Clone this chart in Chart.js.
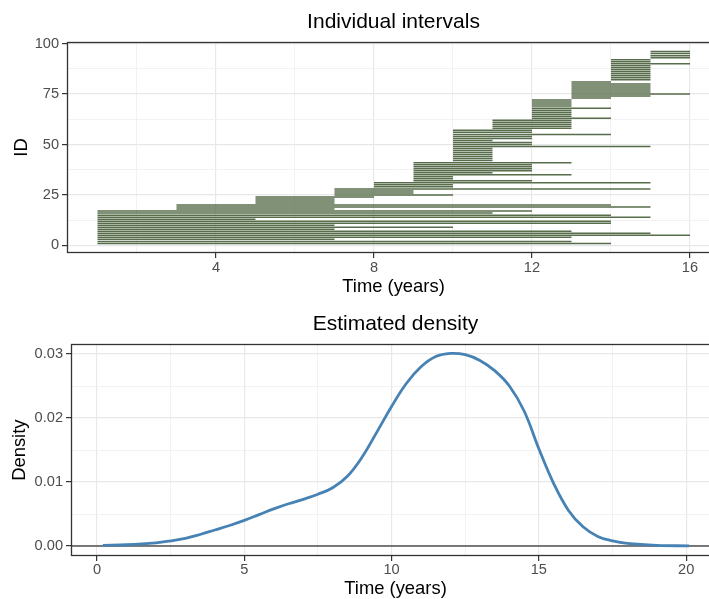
<!DOCTYPE html>
<html>
<head>
<meta charset="utf-8">
<script src="https://cdn.jsdelivr.net/npm/chart.js@4.4.1/dist/chart.umd.min.js"></script>
<style>
html, body { margin: 0; padding: 0; background: #fff; overflow: hidden; width: 709px; height: 599px; }
canvas { position: absolute; left: 0; }
#top { top: 0; }
#bottom { top: 300px; }
</style>
</head>
<body>
<canvas id="top" width="720" height="300"></canvas>
<canvas id="bottom" width="720" height="300"></canvas>
<script>
// --- interval data (one row per ID) ---
const ids = [1,2,3,4,5,6,7,8,9,10,11,12,13,14,15,16,17,18,19,20,
  21,22,23,24,25,26,27,28,29,30,31,32,33,34,35,36,37,38,39,40,
  41,42,43,44,45,46,47,48,49,50,51,52,53,54,55,56,57,58,59,60,
  61,62,63,64,65,66,67,68,69,70,71,72,73,74,75,76,77,78,79,80,
  81,82,83,84,85,86,87,88,89,90,91,92,93,94,95,96];
const starts = [1,1,1,1,1,1,1,1,1,1,1,1,1,1,1,1,1,
  3,3,3,
  5,5,5,5,
  7,7,7,7,
  8,8,8,
  9,9,9,9,9,9,9,9,9,9,
  10,10,10,10,10,10,10,10,10,10,10,10,10,10,10,10,
  11,11,11,11,11,
  12,12,12,12,12,12,12,12,12,12,
  13,13,13,13,13,13,13,13,13,
  14,14,14,14,14,14,14,14,14,14,14,
  15,15,15,15];
const ends = [14,13,7,13,16,15,13,7,10,7,14,14,5,15,14,11,12,
  7,15,14,
  7,7,7,8,
  10,9,9,15,
  10,10,15,
  12,10,10,13,11,12,12,12,12,13,
  11,11,11,11,11,11,11,15,12,12,11,12,12,14,12,12,
  13,13,13,13,13,
  14,13,13,13,13,14,13,13,13,13,
  14,15,16,15,15,15,15,15,14,
  15,15,15,15,15,15,15,15,16,15,15,
  16,16,16,16];

// --- estimated density curve ---
const densX = [0.2,1,2,2.5,3,3.5,4,4.5,5,5.5,6,6.5,7,7.5,8,8.5,9,9.5,10,10.5,
  11,11.5,12,12.5,13,13.5,14,14.5,15,15.5,16,16.5,17,17.5,18,19,20.1];
const densY = [0.0001,0.0002,0.0005,0.0008,0.0012,0.0018,0.0025,0.0032,0.0040,0.0049,
  0.0058,0.0066,0.0073,0.0081,0.0091,0.0109,0.0139,0.0178,0.0218,0.0254,
  0.0280,0.0296,0.0301,0.0299,0.0290,0.0274,0.0250,0.0211,0.0152,0.0098,
  0.0056,0.0030,0.0015,0.0008,0.0004,0.0001,0.00003];
const hlineY = 0;

// --- ticks ---
const topXMajor = [4, 8, 12, 16];
const topXMinor = [2, 6, 10, 14];
const topYMajor = [0, 25, 50, 75, 100];
const topYMinor = [12.5, 37.5, 62.5, 87.5];
const botXMajor = [0, 5, 10, 15, 20];
const botXMinor = [2.5, 7.5, 12.5, 17.5];
const botYMajor = [0, 0.01, 0.02, 0.03];
const botYMinor = [0.005, 0.015, 0.025];

const FONT = '"Liberation Sans", Arial, Helvetica, sans-serif';
const INK = '#333333';
const TICK_TXT = '#4d4d4d';

Chart.defaults.font.family = FONT;

function axis(min, max, major, minor, fmt, size, tickPad, title, titlePad) {
  const all = major.concat(minor).sort((a, b) => a - b);
  return {
    type: 'linear', min: min, max: max, offset: false,
    afterBuildTicks: s => { s.ticks = all.map(v => ({ value: v })); },
    afterFit: s => { if (s.isHorizontal()) s.height = size; else s.width = size; },
    grid: {
      offset: false,
      color: c => major.includes(c.tick.value) ? '#e8e8e8' : '#f0f0f0',
      lineWidth: c => major.includes(c.tick.value) ? 1.2 : 0.9,
      tickColor: c => major.includes(c.tick.value) ? INK : 'rgba(0,0,0,0)',
      tickLength: 5, tickWidth: 1.2
    },
    border: { display: false },
    ticks: {
      autoSkip: false, maxRotation: 0, padding: tickPad,
      color: TICK_TXT, font: { size: 14.6 },
      callback: v => major.includes(v) ? fmt(v) : ''
    },
    title: { display: true, text: title, color: '#000', font: { size: 18.4 }, padding: titlePad }
  };
}

const panelBorder = {
  id: 'panelBorder',
  afterDatasetsDraw(chart) {
    const { ctx, chartArea: a } = chart;
    const l = Math.round(a.left) + 0.5, t = Math.round(a.top) + 0.5;
    const r = Math.round(a.right) - 0.5, b = Math.round(a.bottom) - 0.5;
    ctx.save();
    ctx.strokeStyle = INK;
    ctx.lineWidth = 1.3;
    ctx.strokeRect(l, t, r - l, b - t);
    ctx.restore();
  }
};

// top: individual intervals
new Chart(document.getElementById('top'), {
  type: 'bar',
  data: {
    datasets: [{
      data: ids.map((id, i) => ({ y: id, x: [starts[i], ends[i]] })),
      backgroundColor: 'rgb(86,108,74)',
      borderWidth: 0,
      barThickness: 1.5,
      inflateAmount: 0
    }]
  },
  options: {
    indexAxis: 'y',
    responsive: false, animation: false,
    layout: { padding: 0 },
    plugins: {
      legend: { display: false }, tooltip: { enabled: false },
      title: { display: true, fullSize: false, text: 'Individual intervals', color: '#000',
        font: { size: 21, weight: 'normal' }, padding: { top: 9.6, bottom: 7.2 } }
    },
    scales: {
      x: axis(0.228, 16.76, topXMajor, topXMinor, v => String(v), 47, 1, 'Time (years)', { top: 0, bottom: 2.3 }),
      y: axis(-3.75, 100.75, topYMajor, topYMinor, v => String(v), 67, 3, 'ID', { top: 11, bottom: 0 })
    }
  },
  plugins: [panelBorder]
});

// bottom: estimated density
new Chart(document.getElementById('bottom'), {
  type: 'line',
  data: {
    datasets: [{
      data: densX.map((x, i) => ({ x: x, y: densY[i] })),
      borderColor: '#4682b4', borderWidth: 2.8,
      pointRadius: 0, tension: 0.4, order: 0
    }, {
      data: [{ x: -0.883, y: hlineY }, { x: 21.15, y: hlineY }],
      borderColor: '#000', borderWidth: 1.2,
      pointRadius: 0, order: 1
    }]
  },
  options: {
    responsive: false, animation: false,
    layout: { padding: 0 },
    plugins: {
      legend: { display: false }, tooltip: { enabled: false },
      title: { display: true, fullSize: false, text: 'Estimated density', color: '#000',
        font: { size: 21, weight: 'normal' }, padding: { top: 11.6, bottom: 7.5 } }
    },
    scales: {
      x: axis(-0.883, 21.15, botXMajor, botXMinor, v => String(v), 44, 0.3, 'Time (years)', { top: 0, bottom: 0.2 }),
      y: axis(-0.00156, 0.03152, botYMajor, botYMinor, v => v.toFixed(2), 71, 3, 'Density', { top: 8.5, bottom: 0 })
    }
  },
  plugins: [panelBorder]
});
</script>
</body>
</html>
